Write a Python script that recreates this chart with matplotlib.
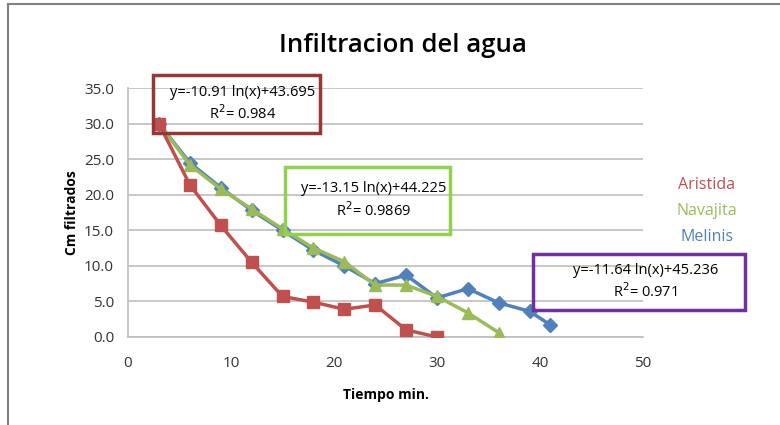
import matplotlib
matplotlib.use("Agg")
import matplotlib.pyplot as plt
from matplotlib.lines import Line2D
from matplotlib.patches import Rectangle

plt.rcParams['font.family'] = ['Open Sans', 'DejaVu Sans']

x_aristida = [3, 6, 9, 12, 15, 18, 21, 24, 27, 30]
y_aristida = [30.0, 21.4, 15.7, 10.5, 5.7, 4.9, 3.9, 4.5, 1.0, 0.0]

x_navajita = [3, 6, 9, 12, 15, 18, 21, 24, 27, 30, 33, 36]
y_navajita = [30.0, 24.2, 20.8, 18.0, 15.2, 12.5, 10.6, 7.3, 7.3, 5.7, 3.4, 0.6]

x_melinis = [3, 6, 9, 12, 15, 18, 21, 24, 27, 30, 33, 36, 39, 41]
y_melinis = [30.0, 24.5, 21.0, 17.8, 15.0, 12.2, 10.0, 7.5, 8.7, 5.5, 6.8, 4.8, 3.6, 1.7]

series_names = ["Aristida", "Navajita", "Melinis"]
series_colors = ["#C0504D", "#9BBB59", "#4F81BD"]

eq_texts = ["y=-10.91 ln(x)+43.695\nR$^2$= 0.984",
            "y=-13.15 ln(x)+44.225\nR$^2$= 0.9869",
            "y=-11.64 ln(x)+45.236\nR$^2$= 0.971"]
eq_colors = ["#953735", "#92D050", "#7030A0"]

title = "Infiltracion del agua"
xlabel = "Tiempo min."
ylabel = "Cm filtrados"

W, H = 780, 425
fig = plt.figure(figsize=(W/100, H/100), dpi=100)
ax = fig.add_axes([128/W, 1-337/H, (643-128)/W, (337-88)/H])

ax.plot(x_melinis, y_melinis, color=series_colors[2], marker='D', markersize=7, lw=2.5, zorder=3)
ax.plot(x_navajita, y_navajita, color=series_colors[1], marker='^', markersize=9, lw=2.5, zorder=4)
ax.plot(x_aristida, y_aristida, color=series_colors[0], marker='s', markersize=8, lw=2.5, zorder=5)

ax.set_xlim(0, 50)
ax.set_ylim(0, 35)
ax.set_xticks(range(0, 51, 10))
ax.set_yticks([0, 5, 10, 15, 20, 25, 30, 35])
ax.set_yticklabels([f"{v:.1f}" for v in [0, 5, 10, 15, 20, 25, 30, 35]])
ax.grid(axis='y', color='#BEBEBE', lw=1.2)
ax.set_axisbelow(True)
for s in ['top', 'right']:
    ax.spines[s].set_visible(False)
for s in ['left', 'bottom']:
    ax.spines[s].set_color('#BEBEBE')
    ax.spines[s].set_linewidth(1.2)
ax.tick_params(length=0, labelsize=11, colors='#333333')
ax.tick_params(axis='y', pad=10)
ax.tick_params(axis='x', pad=14)
ax.set_xlabel(xlabel, fontsize=10, fontweight='bold', labelpad=12)
ax.set_ylabel(ylabel, fontsize=10, fontweight='bold', labelpad=4)

fig.text(403/W, 1-45/H, title, ha='center', va='center', fontsize=18.5, fontweight='semibold')

# legend (text only)
for name, col, yy in zip(series_names, series_colors, [185, 211, 237]):
    fig.text(707/W, 1-yy/H, name, color=col, fontsize=11.5, ha='center', va='center')

# equation boxes
boxes = [(153, 75, 320, 133), (285, 167, 450, 234), (533, 254, 745, 310)]
for (x0, y0, x1, y1), t, c in zip(boxes, eq_texts, eq_colors):
    fig.patches.append(Rectangle((x0/W, 1-y1/H), (x1-x0)/W, (y1-y0)/H,
                                 transform=fig.transFigure, fill=True, facecolor='none',
                                 edgecolor=c, lw=2.5, zorder=10))
    fig.text((x0+x1)/2/W + 0.008, 1-(y0+y1)/2/H, t, ha='center', va='center', fontsize=10.5,
             linespacing=1.35, zorder=11)

# outer frame
fig.add_artist(Line2D([8/W, 8/W], [0, 1-4/H], transform=fig.transFigure, color='#808080', lw=1.5))
fig.add_artist(Line2D([8/W, 1], [1-4/H, 1-4/H], transform=fig.transFigure, color='#808080', lw=1.5))

fig.savefig("out.png", dpi=100)
